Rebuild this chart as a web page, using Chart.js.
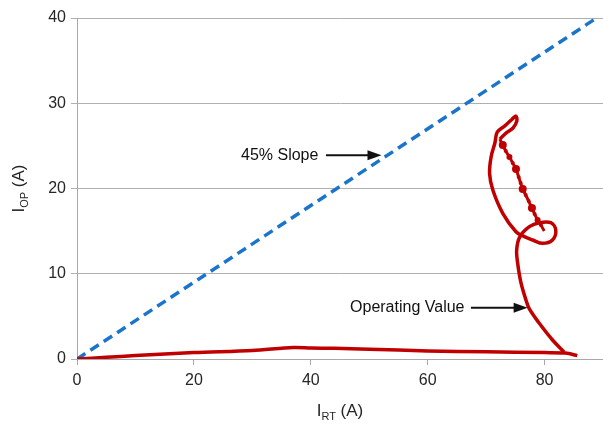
<!DOCTYPE html>
<html>
<head>
<meta charset="utf-8">
<script src="https://cdn.jsdelivr.net/npm/chart.js@4/dist/chart.umd.min.js"></script>
<style>
  html, body { margin: 0; padding: 0; background: #ffffff; }
  #wrap { width: 603px; height: 424px; }
</style>
</head>
<body>
<div id="wrap"><canvas id="c" width="603" height="424"></canvas></div>
<script>
// Tick values on both axes
const xTicks = [0, 20, 40, 60, 80];
const yTicks = [0, 10, 20, 30, 40];

// Reference line with 45 % slope
const slopeX = [0, 88.9];
const slopeY = [0, 40];

// Operating value: restraint current stays low along the bottom
const baseX = [0, 5, 10, 20, 30, 37, 40, 44, 50, 60, 70, 80, 83.6, 85.6];
const baseY = [0, 0.2, 0.4, 0.75, 1.0, 1.35, 1.3, 1.25, 1.15, 0.95, 0.85, 0.75, 0.7, 0.4];

// Operating value: rise, lower loop, climb to the top loop
const riseX = [83.34, 81.36, 79.1, 77.4, 76.82, 75.97, 75.4, 75.23, 75.74,
               77.4, 79.1, 81.07, 81.92, 81.36, 79.66, 77.96, 76.54,
               75.11, 72.85, 71.15, 70.59, 70.86, 71.5, 71.9,
               73.2, 74.4, 75.1, 75.25, 74.6, 73.4, 72.34];
const riseY = [0.82, 2.23, 4.19, 5.87, 6.92, 8.92, 11.23, 12.79, 14.3,
               15.52, 15.99, 15.99, 15.13, 13.96, 13.57, 13.96, 14.35,
               14.93, 17.09, 19.82, 21.78, 23.73, 25.34, 26.6,
               27.35, 28.1, 28.5, 27.9, 27.1, 26.5, 25.81];

// Operating value: dotted descent back into the lower loop
const fallX = [72.34, 72.85, 73.36, 73.99, 74.55, 75.11, 75.57, 75.91, 76.26, 76.77, 77.28, 77.84, 78.30, 78.81, 79.37, 79.95];
const fallY = [25.81, 25.10, 24.40, 23.70, 22.99, 22.29, 21.35, 20.65, 19.94, 19.24, 18.53, 17.71, 17.01, 16.30, 15.72, 15.01];
const fallDot = [0, 4, 2, 3, 2, 4, 2, 2, 4, 2, 2, 4, 2, 3, 2, 0];

// Callout labels with their arrows (data units)
const noteText = ['45% Slope', 'Operating Value'];
const noteX    = [41.3, 66.3];
const noteY    = [23.9, 6.0];
const arrowFrom = [42.6, 67.4];
const arrowTo   = [52.1, 77.1];

const RED = '#c00000';
const BLUE = '#1b74cc';
const FONT = '"Liberation Sans", Arial, sans-serif';

const pts = (xs, ys) => xs.map((x, i) => ({ x, y: ys[i] }));

function drawSubText(ctx, parts) {
  let total = 0;
  parts.forEach(p => { ctx.font = p[1] + 'px ' + FONT; total += ctx.measureText(p[0]).width; });
  let x = -total / 2;
  parts.forEach(p => {
    ctx.font = p[1] + 'px ' + FONT;
    ctx.fillText(p[0], x, p[2]);
    x += ctx.measureText(p[0]).width;
  });
}

const annotate = {
  id: 'annotate',
  afterDraw(chart) {
    const ctx = chart.ctx;
    const sx = chart.scales.x, sy = chart.scales.y;
    const area = chart.chartArea;
    ctx.save();
    ctx.fillStyle = '#111111';
    ctx.strokeStyle = '#111111';
    ctx.textBaseline = 'middle';
    noteText.forEach((t, i) => {
      const py = sy.getPixelForValue(noteY[i]);
      ctx.font = '16px ' + FONT;
      ctx.textAlign = 'right';
      ctx.fillText(t, sx.getPixelForValue(noteX[i]), py);
      const x0 = sx.getPixelForValue(arrowFrom[i]);
      const x1 = sx.getPixelForValue(arrowTo[i]);
      ctx.lineWidth = 2;
      ctx.beginPath();
      ctx.moveTo(x0, py);
      ctx.lineTo(x1 - 12, py);
      ctx.stroke();
      ctx.beginPath();
      ctx.moveTo(x1, py);
      ctx.lineTo(x1 - 14, py - 5);
      ctx.lineTo(x1 - 14, py + 5);
      ctx.closePath();
      ctx.fill();
    });

    // axis titles with subscripts
    ctx.fillStyle = '#262626';
    ctx.textAlign = 'left';
    ctx.textBaseline = 'alphabetic';
    ctx.save();
    ctx.translate((area.left + area.right) / 2, 416);
    drawSubText(ctx, [['I', 17, 0], ['RT', 11, 4], [' (A)', 17, 0]]);
    ctx.restore();
    ctx.save();
    ctx.translate(24, (area.top + area.bottom) / 2);
    ctx.rotate(-Math.PI / 2);
    drawSubText(ctx, [['I', 17, 0], ['OP', 11, 4], [' (A)', 17, 0]]);
    ctx.restore();
    ctx.restore();
  }
};

new Chart(document.getElementById('c'), {
  type: 'scatter',
  data: {
    datasets: [
      { data: pts(slopeX, slopeY), showLine: true, borderColor: BLUE, borderWidth: 3.5,
        borderDash: [10, 6], pointRadius: 0, order: 2 },
      { data: pts(baseX, baseY), showLine: true, borderColor: RED, borderWidth: 3.5,
        pointRadius: 0, tension: 0.3, order: 1 },
      { data: pts(riseX, riseY), showLine: true, borderColor: RED, borderWidth: 3.5,
        pointRadius: 0, tension: 0.35, order: 1 },
      { data: pts(fallX, fallY), showLine: true, borderColor: RED, borderWidth: 3,
        pointRadius: fallDot, pointBackgroundColor: RED, pointBorderWidth: 0,
        tension: 0.3, order: 1 }
    ]
  },
  options: {
    responsive: false,
    animation: false,
    devicePixelRatio: 1,
    layout: { padding: { top: 18, right: 0, left: 0, bottom: 0 } },
    plugins: { legend: { display: false }, tooltip: { enabled: false } },
    scales: {
      x: {
        type: 'linear', min: 0, max: 90,
        afterBuildTicks: s => { s.ticks = xTicks.map(v => ({ value: v })); },
        afterFit: s => { s.height = 65; },
        ticks: { color: '#262626', font: { family: FONT, size: 16 }, padding: 6 },
        grid: { drawOnChartArea: false, drawTicks: true, tickLength: 6, color: '#a8a8a8' },
        border: { color: '#a8a8a8' }
      },
      y: {
        type: 'linear', min: 0, max: 40,
        afterBuildTicks: s => { s.ticks = yTicks.map(v => ({ value: v })); },
        afterFit: s => { s.width = 77; },
        ticks: { color: '#262626', font: { family: FONT, size: 16 }, padding: 5 },
        grid: { drawTicks: true, tickLength: 6, color: '#b0b0b0' },
        border: { color: '#a8a8a8' }
      }
    }
  },
  plugins: [annotate]
});
</script>
</body>
</html>
